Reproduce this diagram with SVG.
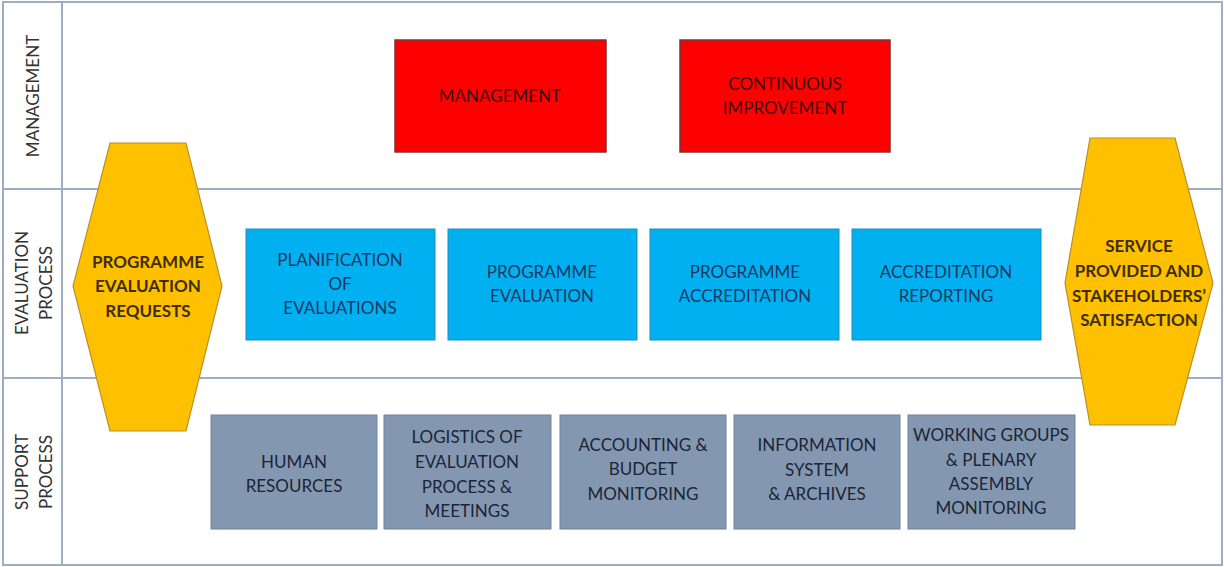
<svg xmlns="http://www.w3.org/2000/svg" width="1224" height="567" viewBox="0 0 1224 567">
<style>
text{font-family:"Lato","Open Sans","Liberation Sans",sans-serif;font-size:17px;text-anchor:middle}
.lane{fill:none;stroke:#9DAEC4;stroke-width:2}
.red{fill:#FF0000;stroke:#7F3030;stroke-width:1.5}
.blue{fill:#00B0F0;stroke:#1C8EBB;stroke-width:1}
.gray{fill:#8497B0;stroke:#6F82A0;stroke-width:1}
.hex{fill:#FFC000;stroke:#B8902A;stroke-width:1.2}
.tr{fill:#3A0A0A}
.tb{fill:#1F3864}
.tg{fill:#1B2537}
.th{fill:#3F2E00;font-weight:bold}
.tl{fill:#333333;font-size:17px}
</style>
<rect x="0" y="0" width="1224" height="567" fill="#FFFFFF"/>
<g id="lanes">
<rect class="lane" x="3" y="2" width="1219" height="563"/>
<line class="lane" x1="62" y1="2" x2="62" y2="565"/>
<line class="lane" x1="3" y1="189" x2="1222" y2="189"/>
<line class="lane" x1="3" y1="378" x2="1222" y2="378"/>
<text class="tl" transform="translate(39,96) rotate(-90)">MANAGEMENT</text>
<text class="tl" transform="translate(28,283) rotate(-90)">EVALUATION</text>
<text class="tl" transform="translate(52,283) rotate(-90)">PROCESS</text>
<text class="tl" transform="translate(28,472) rotate(-90)">SUPPORT</text>
<text class="tl" transform="translate(52,472) rotate(-90)">PROCESS</text>
</g>
<g id="connectors"></g>
<g id="management">
<rect class="red" x="395" y="40" width="211" height="112"/>
<text class="tr" x="500" y="102">MANAGEMENT</text>
</g>
<g id="continuous-improvement">
<rect class="red" x="680" y="40" width="210" height="112"/>
<text class="tr" x="785" y="90">CONTINUOUS</text>
<text class="tr" x="785" y="114">IMPROVEMENT</text>
</g>
<g id="programme-evaluation-requests">
<polygon class="hex" points="110,143 186,143 222,286 186,431 110,431 73,286"/>
<text class="th" x="148" y="268">PROGRAMME</text>
<text class="th" x="148" y="292">EVALUATION</text>
<text class="th" x="148" y="317">REQUESTS</text>
</g>
<g id="service-provided">
<polygon class="hex" points="1090,138 1175,138 1213,283 1175,425 1090,425 1065,283"/>
<text class="th" x="1139" y="252">SERVICE</text>
<text class="th" x="1139" y="277">PROVIDED AND</text>
<text class="th" x="1139" y="302">STAKEHOLDERS’</text>
<text class="th" x="1139" y="326">SATISFACTION</text>
</g>
<g id="planification">
<rect class="blue" x="246" y="229" width="189" height="111"/>
<text class="tb" x="340" y="266">PLANIFICATION</text>
<text class="tb" x="340" y="290">OF</text>
<text class="tb" x="340" y="314">EVALUATIONS</text>
</g>
<g id="programme-evaluation">
<rect class="blue" x="448" y="229" width="189" height="111"/>
<text class="tb" x="542" y="278">PROGRAMME</text>
<text class="tb" x="542" y="302">EVALUATION</text>
</g>
<g id="programme-accreditation">
<rect class="blue" x="650" y="229" width="189" height="111"/>
<text class="tb" x="745" y="278">PROGRAMME</text>
<text class="tb" x="745" y="302">ACCREDITATION</text>
</g>
<g id="accreditation-reporting">
<rect class="blue" x="852" y="229" width="189" height="111"/>
<text class="tb" x="946" y="278">ACCREDITATION</text>
<text class="tb" x="946" y="302">REPORTING</text>
</g>
<g id="human-resources">
<rect class="gray" x="211" y="415" width="166" height="114"/>
<text class="tg" x="294" y="468">HUMAN</text>
<text class="tg" x="294" y="492">RESOURCES</text>
</g>
<g id="logistics">
<rect class="gray" x="384" y="415" width="167" height="114"/>
<text class="tg" x="467" y="443">LOGISTICS OF</text>
<text class="tg" x="467" y="468">EVALUATION</text>
<text class="tg" x="467" y="493">PROCESS &amp;</text>
<text class="tg" x="467" y="517">MEETINGS</text>
</g>
<g id="accounting">
<rect class="gray" x="560" y="415" width="166" height="114"/>
<text class="tg" x="643" y="451">ACCOUNTING &amp;</text>
<text class="tg" x="643" y="475">BUDGET</text>
<text class="tg" x="643" y="500">MONITORING</text>
</g>
<g id="information-system">
<rect class="gray" x="734" y="415" width="166" height="114"/>
<text class="tg" x="817" y="451">INFORMATION</text>
<text class="tg" x="817" y="476">SYSTEM</text>
<text class="tg" x="817" y="500">&amp; ARCHIVES</text>
</g>
<g id="working-groups">
<rect class="gray" x="908" y="415" width="167" height="114"/>
<text class="tg" x="991" y="441">WORKING GROUPS</text>
<text class="tg" x="991" y="466">&amp; PLENARY</text>
<text class="tg" x="991" y="490">ASSEMBLY</text>
<text class="tg" x="991" y="514">MONITORING</text>
</g>
</svg>
